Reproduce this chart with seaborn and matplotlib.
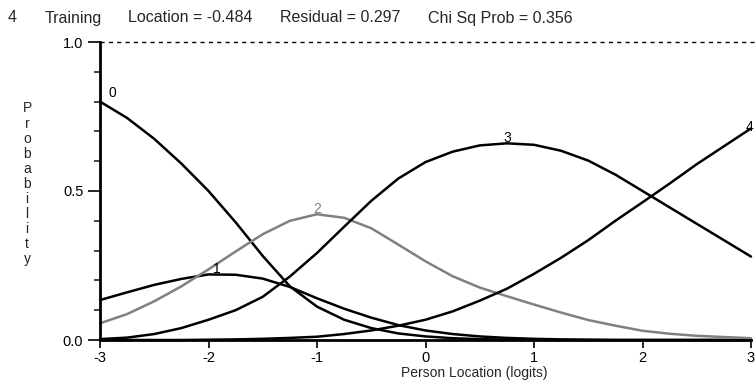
import numpy as np
import pandas as pd
import matplotlib
matplotlib.use("Agg")
import matplotlib.pyplot as plt
import seaborn as sns
from matplotlib.ticker import MultipleLocator

# ── data ────────────────────────────────────────────────────────────────────
theta = [-3.0, -2.75, -2.5, -2.25, -2.0, -1.75, -1.5, -1.25, -1.0, -0.75, -0.5, -0.25,
         0.0, 0.25, 0.5, 0.75, 1.0, 1.25, 1.5, 1.75, 2.0, 2.25, 2.5, 2.75, 3.0]

p_cat0 = [0.800, 0.745, 0.675, 0.592, 0.500, 0.395, 0.282, 0.180, 0.112, 0.068, 0.040, 0.022,
          0.012, 0.006, 0.003, 0.001, 0.001, 0.0, 0.0, 0.0, 0.0, 0.0, 0.0, 0.0, 0.0]
p_cat1 = [0.134, 0.160, 0.185, 0.205, 0.220, 0.219, 0.206, 0.178, 0.140, 0.105, 0.075, 0.050,
          0.032, 0.020, 0.012, 0.007, 0.004, 0.002, 0.001, 0.0, 0.0, 0.0, 0.0, 0.0, 0.0]
p_cat2 = [0.056, 0.087, 0.130, 0.180, 0.237, 0.297, 0.355, 0.400, 0.422, 0.410, 0.375, 0.320,
          0.264, 0.214, 0.176, 0.147, 0.119, 0.092, 0.067, 0.048, 0.031, 0.021, 0.014, 0.010, 0.006]
p_cat3 = [0.003, 0.008, 0.020, 0.040, 0.068, 0.100, 0.145, 0.213, 0.292, 0.380, 0.467, 0.542,
          0.597, 0.632, 0.653, 0.660, 0.655, 0.635, 0.602, 0.555, 0.500, 0.445, 0.390, 0.335, 0.280]
p_cat4 = [0.0, 0.0, 0.0, 0.0, 0.001, 0.002, 0.004, 0.007, 0.011, 0.020, 0.032, 0.048,
          0.068, 0.096, 0.132, 0.172, 0.222, 0.276, 0.335, 0.400, 0.462, 0.525, 0.590, 0.650, 0.710]

categories = ["0", "1", "2", "3", "4"]
cat_colors = ["black", "black", "#808080", "black", "black"]

title_parts = ["4", "Training", "Location = -0.484", "Residual = 0.297", "Chi Sq Prob = 0.356"]
x_ticks = [-3, -2, -1, 0, 1, 2, 3]
y_ticks = [0.0, 0.5, 1.0]

# ── long table for seaborn ─────────────────────────────────────────────────
series = [p_cat0, p_cat1, p_cat2, p_cat3, p_cat4]
df = pd.concat([pd.DataFrame({"theta": theta, "prob": vals, "category": cat})
                for cat, vals in zip(categories, series)], ignore_index=True)

sns.set_theme(style="white")
plt.rcParams["font.family"] = ["Liberation Sans", "DejaVu Sans"]

W, H = 755, 383
fig = plt.figure(figsize=(W / 100, H / 100), dpi=100)
ax = fig.add_axes([100 / W, 1 - 340 / H, (751 - 100) / W, 298 / H])

sns.lineplot(data=df, x="theta", y="prob", hue="category",
             palette=dict(zip(categories, cat_colors)), hue_order=categories,
             legend=False, lw=1.8, errorbar=None, ax=ax, clip_on=False)

# curve labels at each curve's maximum
label_offsets = {"0": (6, 1, "left"), "1": (6, -1, "center"), "4": (-1, -4, "center")}
for cat, vals, col in zip(categories, series, cat_colors):
    i = int(np.argmax(vals))
    dx, dy, ha = label_offsets.get(cat, (0, -1, "center"))
    ax.annotate(cat, (theta[i], vals[i]), xytext=(dx, dy), textcoords="offset points",
                ha=ha, va="bottom", fontsize=10, color=col, annotation_clip=False)

ax.set_xlim(-3, 3)
ax.set_ylim(0, 1)
ax.axhline(1.0, color="black", lw=1, ls=(0, (3, 3)), clip_on=False, xmax=1.005)

for s in ["top", "right"]:
    ax.spines[s].set_visible(False)
for s in ["left", "bottom"]:
    ax.spines[s].set_linewidth(2)
    ax.spines[s].set_color("black")

ax.set_xticks(x_ticks)
ax.set_xticklabels([str(t) for t in x_ticks])
ax.set_yticks(y_ticks)
ax.set_yticklabels([f"{t:.1f}" for t in y_ticks])
ax.yaxis.set_minor_locator(MultipleLocator(0.1))
ax.tick_params(axis="y", which="major", direction="out", length=9, width=1.2,
               labelsize=10.5, pad=3, left=True, colors="black")
ax.tick_params(axis="y", which="minor", direction="out", length=4, width=1.2, left=True)
ax.tick_params(axis="x", which="major", direction="out", length=6, width=1.2,
               labelsize=10.5, pad=2, bottom=True, colors="black")
ax.set_xlabel("")
ax.set_ylabel("")

fig.text(474 / W, 1 - 373 / H, "Person Location (logits)", ha="center", va="center", fontsize=10)
fig.text(27 / W, 1 - 184 / H, "\n".join("Probability"), ha="center", va="center",
         fontsize=10, linespacing=1.1)

title_x = [8, 45, 128, 280, 428]
for px, txt in zip(title_x, title_parts):
    fig.text(px / W, 1 - 18 / H, txt, ha="left", va="center", fontsize=11.5)

fig.savefig("out.png", dpi=100)
